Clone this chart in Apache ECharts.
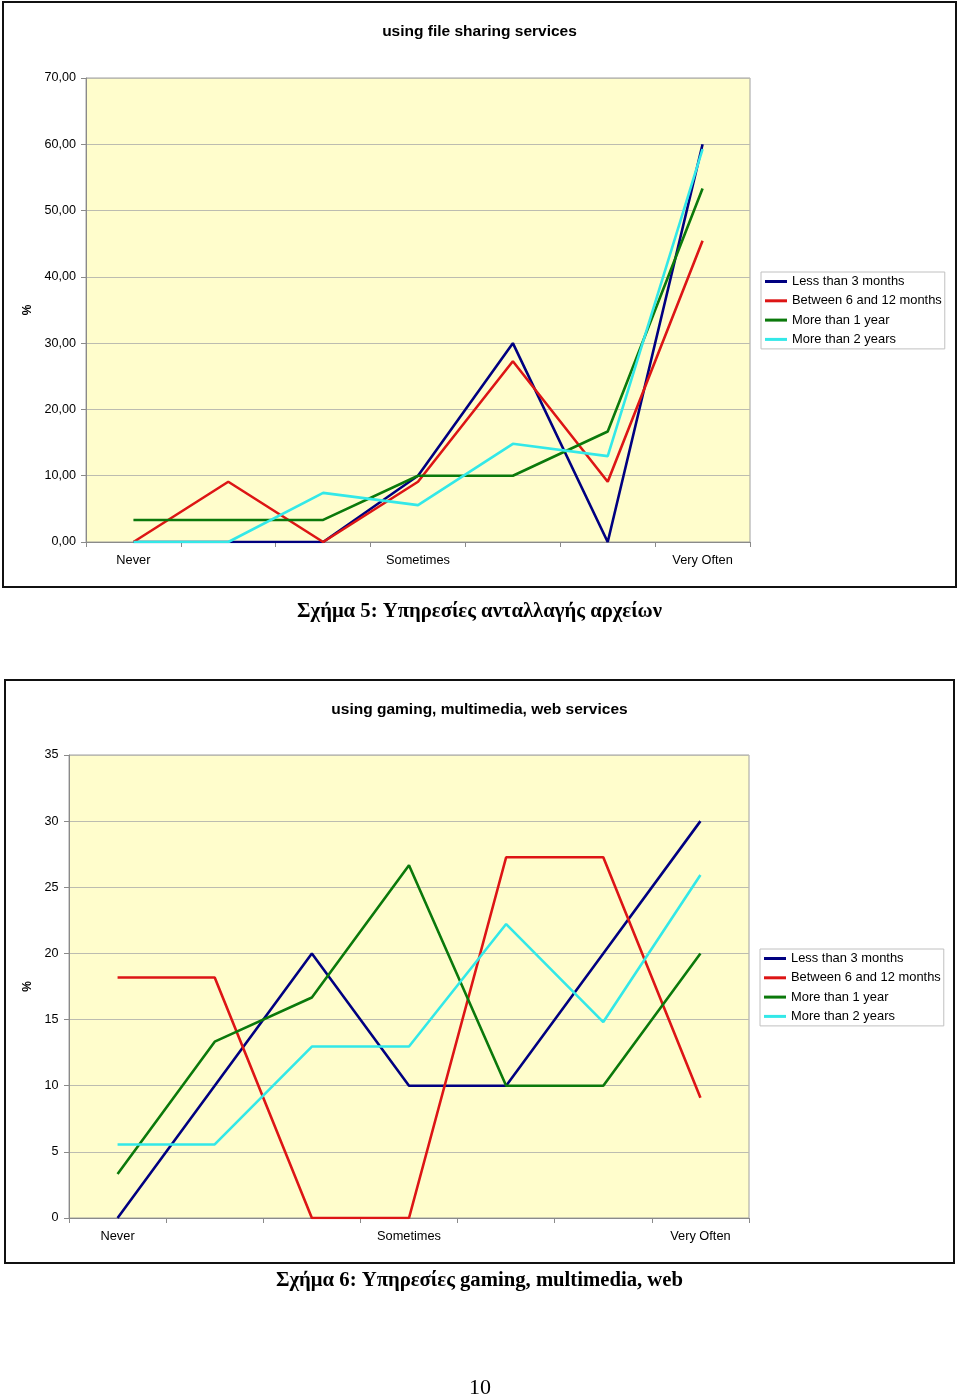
<!DOCTYPE html>
<html>
<head>
<meta charset="utf-8">
<script src="https://cdn.jsdelivr.net/npm/echarts@6/dist/echarts.min.js"></script>
<style>
html,body{margin:0;padding:0;background:#fff;}
#c{width:960px;height:1398px;}
</style>
</head>
<body>
<div id="c"></div>
<script>
// ---- data ----
const xCategories = ['1', '2', '3', '4', '5', '6', '7'];
const xTickLabels = ['Never', '', '', 'Sometimes', '', '', 'Very Often'];
const seriesNames = ['Less than 3 months', 'Between 6 and 12 months', 'More than 1 year', 'More than 2 years'];

// Chart 1: using file sharing services
const fileLess3m = [0, 0, 0, 10, 30, 0, 60];
const file6to12m = [0, 9.09, 0, 9.09, 27.27, 9.09, 45.45];
const fileMore1y = [3.33, 3.33, 3.33, 10, 10, 16.67, 53.33];
const fileMore2y = [0, 0, 7.41, 5.56, 14.81, 12.96, 59.26];
const fileYTicks = { min: 0, max: 70, interval: 10 };

// Chart 2: using gaming, multimedia, web services
const gameLess3m = [0, 10, 20, 10, 10, 20, 30];
const game6to12m = [18.18, 18.18, 0, 0, 27.27, 27.27, 9.09];
const gameMore1y = [3.33, 13.33, 16.67, 26.67, 10, 10, 20];
const gameMore2y = [5.56, 5.56, 12.96, 12.96, 22.22, 14.81, 25.93];
const gameYTicks = { min: 0, max: 35, interval: 5 };

const title1 = 'using file sharing services';
const title2 = 'using gaming, multimedia, web services';
const caption1 = 'Σχήμα 5: Υπηρεσίες ανταλλαγής αρχείων';
const caption2 = 'Σχήμα 6: Υπηρεσίες gaming, multimedia, web';
const pageNumber = '10';

// ---- styles ----
const colors = ['#000080', '#DD1515', '#0B790B', '#33E8E8'];
const sans = 'Liberation Sans, Arial, sans-serif';
const serif = 'Liberation Serif, Times New Roman, serif';
const axisGray = '#8a8a8a';
const gridGray = '#bcbcb0';
const plotBg = '#FFFDCC';

const chart = echarts.init(document.getElementById('c'), null, { renderer: 'canvas' });

function xAxis(gridIndex) {
  return {
    type: 'category', gridIndex, data: xCategories, boundaryGap: true,
    axisLine: { lineStyle: { color: axisGray, width: 1 } },
    axisTick: { show: true, interval: 0, length: 5, lineStyle: { color: axisGray } },
    axisLabel: { interval: 0, margin: 12, color: '#000', fontFamily: sans, fontSize: 12.8,
      formatter: (v, i) => xTickLabels[i] },
    splitLine: { show: false }
  };
}
function yAxis(gridIndex, t, fmt, nameGap, margin) {
  return {
    type: 'value', gridIndex, min: t.min, max: t.max, interval: t.interval,
    name: '%', nameLocation: 'middle', nameGap, nameRotate: 90,
    nameTextStyle: { color: '#000', fontFamily: sans, fontSize: 12, fontWeight: 'bold' },
    axisLine: { show: true, lineStyle: { color: axisGray, width: 1 } },
    axisTick: { show: true, length: 5, lineStyle: { color: axisGray } },
    axisLabel: { margin, color: '#000', fontFamily: sans, fontSize: 12.6, formatter: fmt },
    splitLine: { show: true, lineStyle: { color: gridGray, width: 1 } }
  };
}
function mkSeries(idx, arrs) {
  return arrs.map((d, k) => ({
    type: 'line', name: seriesNames[k], xAxisIndex: idx, yAxisIndex: idx,
    data: d, symbol: 'none', smooth: false, animation: false,
    lineStyle: { color: colors[k], width: 2.6 }, itemStyle: { color: colors[k] }
  }));
}
function legend(left, top) {
  return {
    orient: 'vertical', left, top, padding: [3, 3, 3, 4], itemGap: 6.3,
    itemWidth: 22, itemHeight: 3, icon: 'rect',
    backgroundColor: '#fff', borderColor: '#c0c0c0', borderWidth: 1, borderRadius: 0,
    textStyle: { color: '#000', fontFamily: sans, fontSize: 12.9 },
    data: seriesNames
  };
}

const option = {
  animation: false,
  color: colors,
  grid: [
    { left: 86, top: 78, width: 664, height: 464, show: true, backgroundColor: plotBg, borderColor: '#a0a0a0', borderWidth: 1, containLabel: false },
    { left: 69, top: 755, width: 680, height: 463, show: true, backgroundColor: plotBg, borderColor: '#a0a0a0', borderWidth: 1, containLabel: false }
  ],
  xAxis: [xAxis(0), xAxis(1)],
  yAxis: [
    yAxis(0, fileYTicks, v => v.toFixed(2).replace('.', ','), 45, 10),
    yAxis(1, gameYTicks, v => String(v), 27, 10.5)
  ],
  legend: [legend(761, 272), legend(760, 949)],
  series: [].concat(
    mkSeries(0, [fileLess3m, file6to12m, fileMore1y, fileMore2y]),
    mkSeries(1, [gameLess3m, game6to12m, gameMore1y, gameMore2y])
  ),
  graphic: [
    { type: 'rect', shape: { x: 3, y: 2, width: 953, height: 585 }, style: { fill: 'none', stroke: '#111', lineWidth: 2 }, z: 100 },
    { type: 'rect', shape: { x: 5, y: 680, width: 949, height: 583 }, style: { fill: 'none', stroke: '#111', lineWidth: 2 }, z: 100 },
    { type: 'text', x: 479.5, y: 32, style: { text: title1, fill: '#000', font: 'bold 15.5px ' + sans, textAlign: 'center', textVerticalAlign: 'middle' } },
    { type: 'text', x: 479.5, y: 710, style: { text: title2, fill: '#000', font: 'bold 15.5px ' + sans, textAlign: 'center', textVerticalAlign: 'middle' } },
    { type: 'text', x: 479.5, y: 612, style: { text: caption1, fill: '#000', font: 'bold 20.7px ' + serif, textAlign: 'center', textVerticalAlign: 'middle' } },
    { type: 'text', x: 479.5, y: 1281, style: { text: caption2, fill: '#000', font: 'bold 20.7px ' + serif, textAlign: 'center', textVerticalAlign: 'middle' } },
    { type: 'text', x: 480, y: 1388, style: { text: pageNumber, fill: '#000', font: '22px ' + serif, textAlign: 'center', textVerticalAlign: 'middle' } }
  ]
};
chart.setOption(option);
</script>
</body>
</html>
